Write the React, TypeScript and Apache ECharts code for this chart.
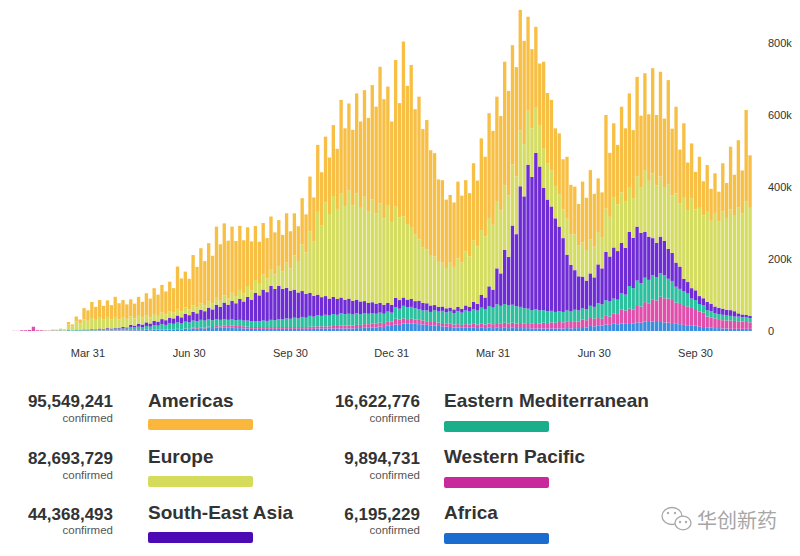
import React, { useEffect, useRef } from 'react';
import * as echarts from 'echarts';

// Half-week categories starting at this date (two points per week: high days, low days)
const START_DATE = '2020-01-25';

// Daily confirmed cases, thousands, stacked bottom -> top
const AFRICA = [
  0,0, 0,0, 0,0, 0,0, 0,0, 0,0, 0.1,0.1, 0.1,0.1, 0.2,0.2, 0.3,0.3,
  0.4,0.4, 1,1, 1,1, 1,1, 1,1, 2,2, 2,2, 3,2, 3,3, 4,3,
  4,4, 5,4, 6,5, 7,6, 8,7, 9,8, 10,9, 10,9, 9,8, 8,7,
  7,6, 6,6, 6,6, 6,6, 6,6, 6,6, 6,6, 6,6, 6,6, 7,7,
  7,7, 7,7, 7,7, 7,7, 8,8, 9,9, 10,10, 12,11, 15,14, 18,17,
  21,20, 21,20, 19,18, 17,16, 15,14, 13,12, 11,10, 10,9, 9,9, 9,8,
  9,8, 9,8, 9,8, 9,8, 9,8, 8,8, 8,7, 7,7, 7,7, 7,7,
  7,7, 8,7, 8,8, 11,10, 14,13, 16,15, 18,17, 20,19, 21,20, 22,21,
  24,23, 26,25, 26,25, 25,24, 23,22, 20,19, 17,16, 16,15, 12,11, 9,9,
  8,8, 7,7, 6,6, 6,6, 6,6,
];

const WESTERN_PACIFIC = [
  0.5,0.5, 2,2, 3,12, 2,2, 1,1, 1,1, 0.5,0.5, 0.5,0.5, 0.7,0.6, 0.8,0.8,
  1,1, 1,1, 1,1, 1,1, 1,1, 1,1, 1,1, 1,1, 1,1, 1,1,
  1,1, 1,1, 1,1, 2,2, 2,2, 3,3, 4,4, 5,5, 6,6, 6,6,
  5,5, 5,5, 5,5, 5,5, 5,5, 5,5, 5,5, 5,5, 6,6, 6,6,
  6,6, 7,7, 8,8, 8,8, 9,9, 10,10, 10,10, 11,11, 12,12, 16,15,
  14,13, 13,12, 12,11, 10,9, 10,9, 9,8, 9,8, 9,8, 10,9, 11,10,
  11,10, 12,11, 13,12, 14,13, 14,13, 14,13, 14,13, 15,14, 16,15, 17,16,
  18,17, 19,18, 19,18, 21,20, 22,21, 20,19, 24,23, 29,28, 39,37, 40,38,
  48,45, 54,52, 62,60, 70,67, 67,64, 59,56, 55,52, 48,46, 42,40, 31,29,
  27,25, 23,22, 23,22, 21,20, 19,18,
];

const EASTERN_MEDITERRANEAN = [
  0,0, 0,0, 0,0, 0,0, 0.3,0.3, 1,1, 1.5,1, 2,1.5, 3,2.5, 3,3,
  3.5,3, 4,3, 4,4, 5,4, 5,5, 8,7, 9,8, 10,9, 12,11, 14,13,
  16,15, 18,16, 19,18, 20,19, 21,20, 20,19, 19,18, 18,17, 17,16, 17,16,
  17,16, 17,16, 18,17, 20,19, 22,21, 24,23, 26,24, 28,26, 30,28, 31,29,
  32,30, 33,31, 34,32, 33,31, 32,30, 31,29, 30,28, 28,26, 27,25, 32,30,
  35,33, 33,31, 30,28, 30,28, 33,31, 34,32, 34,32, 36,34, 38,36, 41,39,
  45,43, 48,46, 52,50, 52,50, 50,48, 45,43, 40,38, 38,36, 35,33, 32,30,
  30,29, 30,29, 32,31, 31,30, 34,33, 41,40, 43,42, 41,40, 45,44, 63,60,
  68,65, 68,65, 67,65, 66,64, 55,53, 44,42, 38,36, 26,25, 21,20, 18,17,
  15,14, 15,14, 13,12, 13,12, 13,12,
];

const SOUTH_EAST_ASIA = [
  0,0, 0,0, 0,0, 0,0, 0,0, 0,0, 0,0, 0.2,0.1, 0.3,0.2, 0.5,0.4,
  0.8,0.7, 1,1, 2,1, 2,2, 4,3, 6,5, 8,7, 10,9, 12,11, 14,13,
  16,15, 19,17, 22,20, 24,22, 28,26, 33,30, 40,36, 46,42, 52,47, 58,53,
  66,60, 78,72, 86,80, 94,87, 92,85, 85,78, 78,72, 72,66, 64,58, 57,52,
  52,47, 48,44, 44,40, 42,38, 38,35, 33,30, 30,28, 27,25, 24,22, 26,24,
  23,21, 22,20, 23,21, 20,18, 14,13, 12,11, 11,10, 12,11, 14,13, 20,18,
  35,32, 55,50, 100,90, 150,135, 220,200, 335,310, 400,370, 435,400, 340,310, 290,260,
  235,205, 155,130, 110,95, 88,80, 90,82, 108,100, 135,125, 142,135, 140,130, 150,140,
  150,140, 127,120, 103,95, 101,95, 83,78, 67,62, 35,32, 29,27, 22,20, 23,21,
  18,17, 17,16, 16,15, 9,8, 7,6,
];

const EUROPE = [
  0,0, 0,0, 0,0, 0,0, 0.5,0.3, 2,1.5, 4,3, 15,11, 22,18, 27,24,
  30,26, 32,27, 31,26, 30,25, 28,24, 24,20, 22,19, 20,17, 19,16, 18,16,
  18,16, 18,16, 18,16, 18,16, 18,16, 18,16, 19,17, 20,18, 22,20, 25,22,
  30,26, 36,32, 42,38, 45,40, 55,48, 70,62, 95,85, 130,115, 170,150, 230,200,
  260,235, 280,250, 290,260, 300,265, 295,260, 290,255, 285,250, 277,240, 272,230, 253,230,
  225,210, 200,185, 170,155, 150,140, 135,125, 122,112, 125,118, 135,128, 150,140, 170,160,
  180,170, 190,180, 185,175, 180,170, 170,160, 155,145, 150,135, 125,115, 110,100, 100,90,
  90,80, 100,85, 100,85, 95,85, 95,85, 90,85, 120,110, 140,130, 140,130, 125,110,
  140,125, 172,155, 180,160, 167,150, 180,160, 192,175, 225,200, 250,225, 245,230, 250,230,
  260,240, 270,255, 280,265, 295,280, 315,300,
];

const AMERICAS = [
  0,0, 0,0, 0,0, 0,0, 0.1,0.1, 0.3,0.2, 0.5,0.3, 7,5, 14,10.5, 32,29,
  45,36, 47,37, 46,39, 56,44, 47,40, 47,41, 53,44, 61,52, 72,59, 77,64,
  82,68, 118,92, 99,85, 140,113, 153,123, 161,133, 198,157, 200,160, 184,153, 178,148,
  163,136, 150,117, 143,112, 148,117, 128,102, 137,103, 117,99, 128,106, 153,123, 186,147,
  183,157, 197,167, 259,216, 242,210, 278,240, 296,259, 318,297, 379,331, 329,279, 408,317,
  486,384, 450,348, 397,328, 359,291, 287,229, 229,190, 188,179, 213,186, 198,176, 215,183,
  255,221, 291,261, 292,262, 343,291, 331,304, 335,287, 261,220, 225,171, 240,196, 196,160,
  169,139, 172,137, 132,116, 169,145, 192,147, 149,126, 260,178, 205,165, 238,202, 260,189,
  276,200, 269,185, 292,195, 291,190, 289,185, 241,150, 207,132, 152,104, 142,95, 130,89,
  110,83, 134,97, 174,114, 186,120, 254,146,
];

const REGIONS = ['Africa', 'Western Pacific', 'Eastern Mediterranean', 'South-East Asia', 'Europe', 'Americas'];
const SERIES_DATA = [AFRICA, WESTERN_PACIFIC, EASTERN_MEDITERRANEAN, SOUTH_EAST_ASIA, EUROPE, AMERICAS];
const TOTALS = [6195229, 9894731, 16622776, 44368493, 82693729, 95549241];
const BAR_COLORS = ['#3a8ee0', '#e04fab', '#2cc09e', '#6f2cd4', '#d4dc62', '#f8bf45'];
const SWATCH_COLORS = ['#1a6ccf', '#c92a9b', '#1aae8a', '#4b0ab4', '#d5dc5c', '#fbb73c'];

const TICK_DATES = ['2020-03-31', '2020-06-30', '2020-09-30', '2020-12-31', '2021-03-31', '2021-06-30', '2021-09-30'];
const TICK_LABELS = ['Mar 31', 'Jun 30', 'Sep 30', 'Dec 31', 'Mar 31', 'Jun 30', 'Sep 30'];
const Y_TICK_STEP = 200;
const Y_MAX = 900;

// Legend layout: [regionIndex, column, row]
const LEGEND_LAYOUT = [
  [5, 0, 0], [4, 0, 1], [3, 0, 2],
  [2, 1, 0], [1, 1, 1], [0, 1, 2],
];

const DAY = 86400000;
const startMs = Date.parse(START_DATE + 'T00:00:00Z');
const CATEGORIES = AMERICAS.map((_, i) => {
  const d = new Date(startMs + Math.floor(i * 3.5) * DAY);
  return d.toISOString().slice(0, 10);
});

const LABEL_AT = new Map<number, string>();
TICK_DATES.forEach((td, j) => {
  const t = Date.parse(td + 'T00:00:00Z');
  let best = 0;
  let bestDiff = Infinity;
  CATEGORIES.forEach((c, i) => {
    const diff = Math.abs(Date.parse(c + 'T00:00:00Z') - t);
    if (diff < bestDiff) { bestDiff = diff; best = i; }
  });
  LABEL_AT.set(best, TICK_LABELS[j]);
});

const FONT = '"Liberation Sans", Arial, Helvetica, sans-serif';

function txt(x: number, y: number, text: string, font: string, fill: string, align: string) {
  return {
    type: 'text', x, y, silent: true,
    style: { text, font, fill, align, verticalAlign: 'middle', textAlign: align, textVerticalAlign: 'middle' },
  };
}

export default function App() {
  const ref = useRef<HTMLDivElement>(null);

  useEffect(() => {
    if (!ref.current) return;
    const chart = echarts.init(ref.current, null, { renderer: 'svg' });

    const numRight = [113, 420];
    const nameLeft = [148, 444];
    const nameY = [400, 456, 512];
    const numY = [401.5, 458.5, 514];
    const confY = [418, 474.5, 530];
    const swY = [[419, 476, 532], [421, 477, 533]];

    const graphics: any[] = [];
    LEGEND_LAYOUT.forEach(([ri, col, row]) => {
      graphics.push(txt(numRight[col], numY[row], TOTALS[ri].toLocaleString('en-US'), `bold 17px ${FONT}`, '#333333', 'right'));
      graphics.push(txt(numRight[col], confY[row], 'confirmed', `11.5px ${FONT}`, '#555555', 'right'));
      graphics.push(txt(nameLeft[col], nameY[row], REGIONS[ri], `bold 19px ${FONT}`, '#333333', 'left'));
      graphics.push({
        type: 'rect', silent: true,
        shape: { x: nameLeft[col], y: swY[col][row], width: 105, height: 11, r: 2 },
        style: { fill: SWATCH_COLORS[ri] },
      });
    });

    // watermark (WeChat-like icon + account name)
    graphics.push({
      type: 'ellipse', silent: true,
      shape: { cx: 672, cy: 516, rx: 10, ry: 8.5 },
      style: { fill: '#ffffff', stroke: '#a8a8a8', lineWidth: 1.3 },
    });
    graphics.push({
      type: 'ellipse', silent: true,
      shape: { cx: 683, cy: 523, rx: 8, ry: 6.8 },
      style: { fill: '#ffffff', stroke: '#a8a8a8', lineWidth: 1.3 },
    });
    [[668, 513], [675, 513], [680, 522], [686, 522]].forEach(([cx, cy]) => {
      graphics.push({ type: 'circle', silent: true, shape: { cx, cy, r: 1.2 }, style: { fill: '#a8a8a8' } });
    });
    graphics.push(txt(697, 519, '华创新药', `20px "Noto Sans CJK SC", sans-serif`, '#a6a6a6', 'left'));

    chart.setOption({
      animation: false,
      backgroundColor: '#ffffff',
      grid: { left: 12, right: 48, top: 7, bottom: 225, containLabel: false },
      xAxis: {
        type: 'category',
        data: CATEGORIES,
        boundaryGap: true,
        axisLine: { show: false },
        axisTick: { show: false },
        splitLine: { show: false },
        axisLabel: {
          interval: (index: number) => LABEL_AT.has(index),
          formatter: (_v: string, index: number) => LABEL_AT.get(index) || '',
          color: '#333333',
          fontSize: 11,
          fontFamily: FONT,
          margin: 16,
          hideOverlap: false,
        },
      },
      yAxis: {
        type: 'value',
        position: 'right',
        min: 0,
        max: Y_MAX,
        interval: Y_TICK_STEP,
        axisLine: { show: false },
        axisTick: { show: false },
        splitLine: { show: false },
        axisLabel: {
          margin: 16,
          color: '#333333',
          fontSize: 11,
          fontFamily: FONT,
          formatter: (v: number) => (v % Y_TICK_STEP !== 0 ? '' : v === 0 ? '0' : `${v}k`),
        },
      },
      series: SERIES_DATA.map((d, i) => ({
        name: REGIONS[i],
        type: 'bar',
        stack: 'total',
        data: d,
        barCategoryGap: '14%',
        itemStyle: { color: BAR_COLORS[i] },
        emphasis: { disabled: true },
        silent: true,
      })),
      graphic: graphics,
    });

    return () => chart.dispose();
  }, []);

  return (
    <div
      ref={ref}
      style={{ position: 'absolute', left: 0, top: 0, width: 800, height: 556, background: '#ffffff' }}
    />
  );
}
